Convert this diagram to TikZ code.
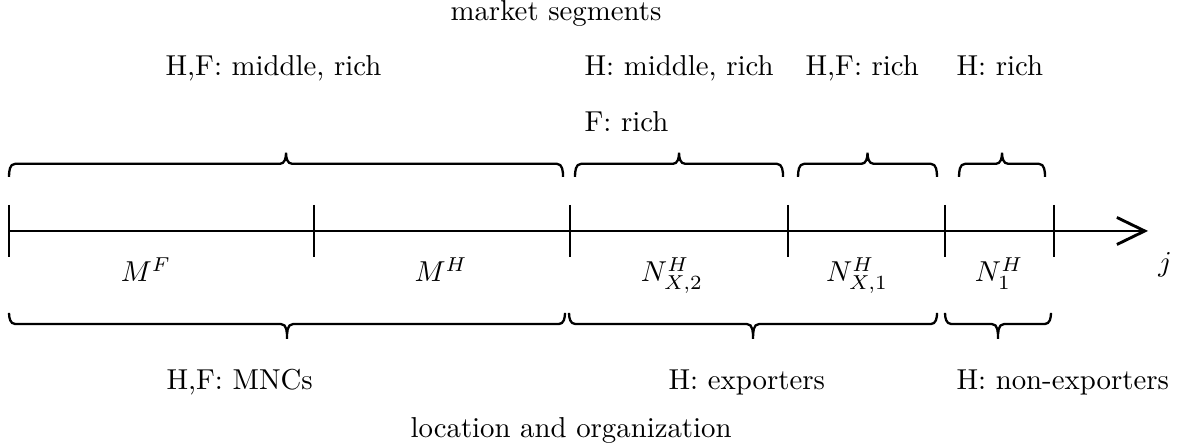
\documentclass[tikz,border=0pt]{standalone}
\usetikzlibrary{arrows.meta,calc}
\tikzset{
  bracepath/.style={line width=0.8pt},
  seglabel/.style={anchor=base,inner sep=0pt},
  txt/.style={anchor=base west,inner sep=0pt},
}
\begin{document}
\begin{tikzpicture}
  \useasboundingbox (-0.110,-2.647) rectangle (14.347,2.818);
  % axis and ticks
  \foreach \n/\x in {0/0,1/3.721,2/6.844,3/9.504,4/11.419,5/12.749}
    \coordinate (t\n) at (\x,0);
  \coordinate (tip) at (13.896,0);
  \draw[line width=1pt,-{Straight Barb[length=3.4mm,width=3.3mm]}] (t0) -- (tip);
  \foreach \n in {0,...,5}
    \draw[line width=1pt] ([yshift=3.17mm]t\n) -- ([yshift=-3.17mm]t\n);
  % segments
  \node[seglabel] (mf) at (1.671,-0.622) {$M^F$};
  \node[seglabel] (mh) at (5.270,-0.622) {$M^H$};
  \node[seglabel] (nx2) at (8.089,-0.622) {$N^H_{X,2}$};
  \node[seglabel] (nx1) at (10.346,-0.622) {$N^H_{X,1}$};
  \node[seglabel] (n1) at (12.078,-0.622) {$N^H_1$};
  \node[seglabel] (jl) at (14.103,-0.50) {$j$};
  % braces above
  \foreach \i/\a/\b in {1/0/6.759,2/6.905/9.443,3/9.626/11.321,4/11.590/12.639}{
    \coordinate (ua\i) at (\a,0.659);
    \coordinate (ub\i) at (\b,0.659);
    \draw[bracepath] (ua\i) to[out=90,in=180] ++(0.075,0.16)
      -- ($(ua\i)!0.5!(ub\i)+(-0.075,0.16)$) to[out=0,in=-90] ++(0.075,0.135)
      to[out=-90,in=180] ++(0.075,-0.135) -- ($(ub\i)+(-0.075,0.16)$)
      to[out=0,in=90] (ub\i);
  }
  % braces below
  \foreach \i/\a/\b in {1/0/6.783,2/6.832/11.322,3/11.419/12.712}{
    \coordinate (la\i) at (\a,-1.0);
    \coordinate (lb\i) at (\b,-1.0);
    \draw[bracepath] (la\i) to[out=-90,in=180] ++(0.075,-0.135)
      -- ($(la\i)!0.5!(lb\i)+(-0.075,-0.135)$) to[out=0,in=90] ++(0.075,-0.18)
      to[out=90,in=180] ++(0.075,0.18) -- ($(lb\i)+(-0.075,-0.135)$)
      to[out=0,in=-90] (lb\i);
  }
  % texts
  \node[txt] (mkt) at (5.380,2.562) {market segments};
  \node[txt] (hfmr) at (1.903,1.891) {H,F: middle, rich};
  \node[txt] (hmr) at (7.015,1.891) {H: middle, rich};
  \node[txt] (hfr) at (9.711,1.891) {H,F: rich};
  \node[txt] (hr) at (11.553,1.891) {H: rich};
  \node[txt] (fr) at (7.015,1.208) {F: rich};
  \node[txt] (mnc) at (1.915,-1.940) {H,F: MNCs};
  \node[txt] (exp) at (8.040,-1.940) {H: exporters};
  \node[txt] (nexp) at (11.553,-1.940) {H: non-exporters};
  \node[txt] (loc) at (4.892,-2.525) {location and organization};
\end{tikzpicture}
\end{document}
